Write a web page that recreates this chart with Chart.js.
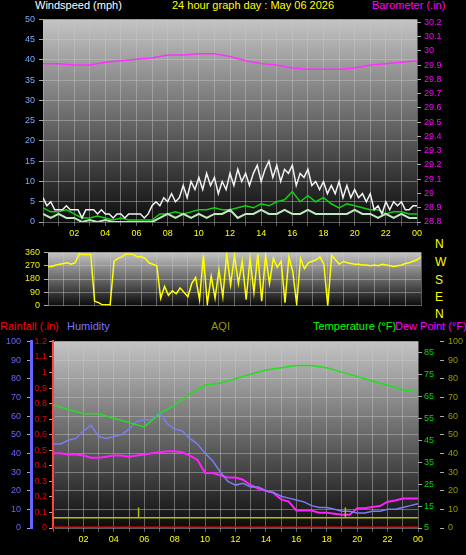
<!DOCTYPE html>
<html><head><meta charset="utf-8">
<script src="https://cdn.jsdelivr.net/npm/chart.js@4"></script>
<style>
body{margin:0;background:#000;width:466px;height:555px;overflow:hidden;position:relative;font-family:"Liberation Sans",Arial,sans-serif}
canvas{position:absolute}
.t{position:absolute;font-size:11px;white-space:nowrap;line-height:11px}
</style></head><body>
<div class="t" style="left:35px;top:0;color:#fff">Windspeed (mph)</div>
<div class="t" style="left:172px;top:0;color:#ff0">24 hour graph day : May 06 2026</div>
<div class="t" style="left:372px;top:0;color:#f0f">Barometer (.in)</div>
<div class="t" style="left:435px;top:239px;color:#ff0;font-size:12px">N</div>
<div class="t" style="left:435px;top:257px;color:#ff0;font-size:12px">W</div>
<div class="t" style="left:435px;top:275px;color:#ff0;font-size:12px">S</div>
<div class="t" style="left:435px;top:292px;color:#ff0;font-size:12px">E</div>
<div class="t" style="left:435px;top:309px;color:#ff0;font-size:12px">N</div>
<div class="t" style="left:0;top:321px;color:#f00">Rainfall (.in)</div>
<div class="t" style="left:67px;top:321px;color:#77f">Humidity</div>
<div class="t" style="left:211px;top:321px;color:#990">AQI</div>
<div class="t" style="left:313px;top:321px;color:#0f0">Temperature (°F)</div>
<div class="t" style="left:395px;top:321px;color:#f0f">Dew Point (°F)</div>
<canvas id="c1" style="left:0;top:10px"></canvas>
<canvas id="c2" style="left:0;top:243px"></canvas>
<canvas id="c3" style="left:0;top:330px"></canvas>
<script>
// ---- data ----
const hourTicks = ['02','04','06','08','10','12','14','16','18','20','22','00'];
const baroTicks = [28.8,28.9,29,29.1,29.2,29.3,29.4,29.5,29.6,29.7,29.8,29.9,30,30.1,30.2];
const tempTicks = [5,10,15,20,25,30,35,40,45,50,55,60,65,70,75,80,85,90];
const windGust = [6,4,5,3, 3,3,4,3, 3,3,1,3, 3,3,2,3, 2,2,1,2, 2,1,2,2, 2,2,1,2, 4,5,4,6, 5,7,5,6, 9,6,10,8, 11,8,12,9, 11,7,10,8, 12,9,13,10, 12,9,12,14, 10,13,15,11, 14,10,13,12, 14,9,12,11, 13,9,10,8, 10,7,9,7, 10,6,9,6, 8,6,7,5, 7,3,4,2, 5,3,5,4, 5,3,3,4, 4];
const windAvg = [3.5,2.5,2.5,3,2,1,1,1.5,1,0.5,1,0.5,0.5,0.5,0.5,2,2,2.5,2,2.5,3,3,3.5,3,3,3.5,4,3.5,4.5,4,5,5.5,7.5,5,6.5,5,6,4.5,3.5,4.5,4,3.5,3,3,2,2.5,2.5,2,2];
const windSpeed = [2,1,2,1,1,0,0.5,0,0.5,0,0,0,0,0,0,1,2,1,2,1,2,1,2,2,3,1,2,2,3,2,2,3,2,2,3,2,2,2,2,2,3,2,2,1,2,1,2,1,1];
const barometer = [29.91,29.91,29.90,29.90,29.92,29.93,29.94,29.95,29.97,29.97,29.98,29.98,29.96,29.93,29.91,29.90,29.88,29.87,29.87,29.87,29.88,29.90,29.91,29.92,29.93];
const windDir = [265,265,275,280, 285,290,280,290, 350,345,345,345, 30,20,5,5, 5,300,320,330, 350,350,345,330, 330,320,290,280, 270,50,130,70, 100,80,120,90, 60,150,190,40, 340,10,200,50, 240,60,350,140, 340,150,300,40, 320,90,350,30, 340,150,320,260, 300,20,330,230, 10,320,250,290, 300,310,330,280, 0,340,310,280, 300,290,285,280, 280,275,275,270, 275,270,280,275, 270,265,270,275, 285,290,300,310, 330];
const temperature = [61,59,57,57,55,53,51,57,61,66,70,71,73,75,77,78,79,79,78,76,74,72,70,68,67];
const humidity = [45,45,47,48,52,55,49,48,49,50,53,57,58,58,62,56,53,52,48,45,40,36,30,25,23,24,22,22,20,19,17,16,15,14,12,11,11,10,9,9,8,8,9,9,10,10,11,12,13];
const dewPoint = [39,39,38.5,38.5,38,37,37,37.5,38,38,37.5,38,38.5,39,39.5,40,40,39.5,38,36,30,30,29,28,28,27,24.5,23,22,21,18,17,13,13,13,12,12,11.5,11,11,14,14,14.6,15,17,17.5,18.4,18.4,18.4];
const rainfall = [0,0];
const aqi = [5.5,5.5,5.5,11,5.5,5.5,5.5,11,5.5,5.5];
const aqiTimes = [0,5.55,5.6,5.6,5.65,19.15,19.2,19.2,19.25,24];

const pts = (arr, step) => arr.map((v,i)=>({x:i*step,y:v}));
const ptsT = (arr, t) => arr.map((v,i)=>({x:t[i],y:v}));

const bg = {id:'bg',beforeDraw(c){const a=c.chartArea,x=c.ctx;const g=x.createLinearGradient(0,a.top,0,a.bottom);g.addColorStop(0,'#c4c4c4');g.addColorStop(1,'#0c0c0c');x.save();x.fillStyle=g;x.fillRect(a.left,a.top,a.right-a.left,a.bottom-a.top);x.restore();}};
const font = {family:'"Liberation Sans",Arial,sans-serif',size:9};
const gridC = 'rgba(200,200,200,0.45)';
function xAxis(h,show){return {type:'linear',min:0,max:24,afterFit:s=>{s.height=h},
  grid:{color:gridC,borderDash:[1,2],tickLength:show?4:0,drawTicks:show},border:{display:false},
  ticks:{display:show,stepSize:1,autoSkip:false,color:'#ff0',font,maxRotation:0,padding:2,
   callback:v=>(v>0&&v%2===0)?hourTicks[v/2-1]:''}};}
function yAx(pos,w,min,max,step,color,grid,extra){return Object.assign({position:pos,min,max,afterFit:s=>{s.width=w},
  grid:{display:true,drawOnChartArea:grid,color:gridC,borderDash:[1,2],tickColor:'#aaa',tickLength:4},border:{display:false},
  ticks:{stepSize:step,color,font,padding:2}},extra||{});}
const common = {responsive:false,animation:false,plugins:{legend:{display:false},tooltip:{enabled:false}},elements:{point:{radius:0},line:{tension:0}}};

function mk(id,w,h,cfg){const c=document.getElementById(id);c.width=w;c.height=h;return new Chart(c,Object.assign({plugins:[bg]},cfg));}

mk('c1',466,235,{type:'line',data:{datasets:[
 {data:pts(windSpeed,0.5),borderColor:'#bfe8bf',borderWidth:2,yAxisID:'y'},
 {data:pts(windGust,0.25),borderColor:'#f2f2f2',borderWidth:1.5,yAxisID:'y'},
 {data:pts(windAvg,0.5),borderColor:'#10d010',borderWidth:1.5,yAxisID:'y'},
 {data:pts(barometer,1),borderColor:'#ff30ff',borderWidth:1.5,yAxisID:'yb'}]},
 options:Object.assign({},common,{layout:{padding:{top:2}},scales:{
  x:xAxis(23,true),
  y:yAx('left',43,0,50,5,'#6af',true,{ticks:{stepSize:5,color:'#7af',font,padding:4}}),
  yb:yAx('right',49,28.8,30.22,0.1,'#f0f',false,{afterBuildTicks:s=>{s.ticks=baroTicks.map(v=>({value:v}))},ticks:{color:'#f0f',font,padding:3,callback:v=>(Math.round(v*10)/10).toString()}})
 }})});

mk('c2',466,72,{type:'line',data:{datasets:[
 {data:pts(windDir,0.25),borderColor:'#ff0',borderWidth:1.5,yAxisID:'y'}]},
 options:Object.assign({},common,{layout:{padding:{top:2,right:45}},scales:{
  x:xAxis(3,false),
  y:yAx('left',48,0,360,90,'#ff0',true,{ticks:{stepSize:90,color:'#ee0',font,padding:4}})
 }})});

mk('c3',466,225,{type:'line',data:{datasets:[
 {data:ptsT(aqi,aqiTimes),borderColor:'#bb0',borderWidth:1.5,yAxisID:'ya'},
 {data:pts(temperature,1),borderColor:'#20e020',borderWidth:1.5,yAxisID:'yt'},
 {data:pts(humidity,0.5),borderColor:'#7a7ef0',borderWidth:1.5,yAxisID:'yh'},
 {data:pts(dewPoint,0.5),borderColor:'#ff20ff',borderWidth:2,yAxisID:'yt'},
 {data:pts(rainfall,24),borderColor:'#ff0000',borderWidth:3,yAxisID:'yr'}]},
 options:Object.assign({},common,{layout:{padding:{top:10}},scales:{
  x:xAxis(27,true),
  yh:yAx('left',31,0,100,10,'#66f',true,{weight:2,border:{display:true,color:'#66f',width:3},ticks:{stepSize:10,color:'#66f',font,padding:6}}),
  yr:yAx('left',22,0,1.2,0.1,'#e00',false,{weight:1,border:{display:true,color:'#f44',width:2,dash:[2,2]},ticks:{stepSize:0.1,color:'#e00',font,padding:2,callback:v=>Math.round(v*10)/10}}),
  yt:yAx('right',22,5,90,5,'#0d0',false,{weight:1,afterBuildTicks:s=>{s.ticks=tempTicks.map(v=>({value:v}))},ticks:{color:'#0d0',font,padding:2,callback:v=>Math.round(v)}}),
  ya:yAx('right',26,0,100,10,'#990',false,{weight:2,ticks:{stepSize:10,color:'#990',font,padding:4}})
 }})});
</script></body></html>
